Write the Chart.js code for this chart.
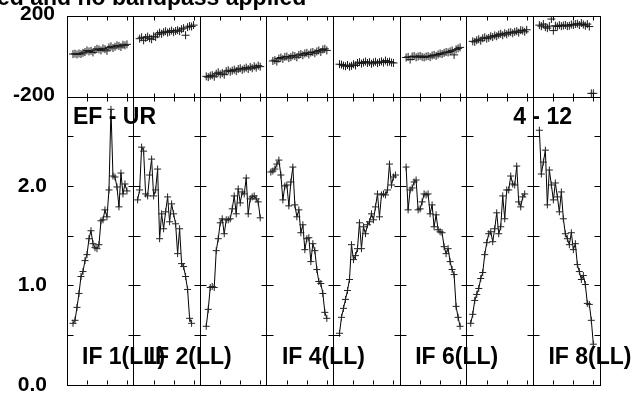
<!DOCTYPE html>
<html>
<head>
<meta charset="utf-8">
<script src="https://cdn.jsdelivr.net/npm/chart.js@4"></script>
<style>
html, body { margin: 0; padding: 0; background: #fff; }
#wrap { width: 636px; height: 394px; }
</style>
</head>
<body>
<div id="wrap"><canvas id="myChart"></canvas></div>
<script>
// amplitude per IF, one value per channel
const amp1 = [0.62, 0.65, 0.78, 0.92, 1.09, 1.14, 1.25, 1.31, 1.47, 1.55, 1.42, 1.38, 1.37, 1.41, 1.65, 1.66, 1.76, 1.69, 1.96, 2.77, 2.10, 2.09, 1.99, 1.79, 2.13, 1.92, 2.02, 1.95];
const amp2 = [1.86, 1.96, 2.39, 2.35, 1.92, 1.90, 2.11, 2.27, 1.90, 1.96, 2.17, 1.47, 1.72, 1.57, 1.74, 1.89, 1.64, 1.82, 1.72, 1.62, 1.32, 1.57, 1.22, 1.19, 1.09, 0.96, 0.67, 0.62];
const amp3 = [0.59, 0.76, 0.98, 0.99, 0.98, 1.35, 1.47, 1.63, 1.67, 1.52, 1.66, 1.66, 1.67, 1.77, 1.90, 1.72, 1.97, 1.83, 1.94, 1.92, 2.08, 1.72, 1.87, 1.89, 1.90, 1.87, 1.84, 1.68];
const amp4 = [2.14, 2.15, 2.17, 2.22, 2.26, 2.11, 1.86, 2.00, 2.01, 1.80, 2.04, 2.19, 1.81, 1.69, 1.76, 1.53, 1.61, 1.36, 1.47, 1.48, 1.24, 1.42, 1.35, 1.16, 1.04, 1.02, 0.92, 0.73, 0.67];
const amp5 = [0.52, 0.68, 0.77, 0.86, 0.95, 1.06, 1.41, 1.26, 1.30, 1.37, 1.63, 1.37, 1.59, 1.52, 1.61, 1.64, 1.72, 1.66, 1.79, 1.92, 1.69, 1.91, 1.92, 1.91, 1.96, 2.22, 2.01, 2.09, 2.11];
const amp6 = [2.19, 1.76, 1.96, 1.98, 2.04, 2.06, 1.76, 1.77, 1.84, 1.92, 1.91, 1.92, 1.72, 1.81, 1.59, 1.71, 1.56, 1.54, 1.53, 1.39, 1.32, 1.37, 1.24, 1.16, 1.11, 0.79, 0.68, 0.59];
const amp7 = [0.62, 0.71, 0.85, 0.91, 0.97, 1.07, 1.13, 1.31, 1.43, 1.52, 1.54, 1.44, 1.57, 1.73, 1.52, 1.59, 1.90, 1.67, 1.96, 1.96, 2.10, 2.02, 2.01, 2.20, 1.84, 1.79, 1.89, 1.92];
const amp8 = [2.56, 2.12, 2.24, 2.36, 1.81, 2.16, 2.01, 1.86, 2.03, 1.89, 1.74, 1.94, 1.67, 1.52, 1.47, 1.41, 1.53, 1.36, 1.42, 1.21, 1.14, 1.06, 1.10, 1.01, 0.82, 0.81, 0.65, 0.41];
const ampFirstChan = [3, 2, 3, 2, 3, 3, 2, 3];

// phase per IF (degrees), channels 3..30
const ph1 = [12, 14, 10, 15, 12, 18, 22, 30, 25, 28, 20, 32, 38, 35, 30, 40, 36, 28, 45, 50, 42, 48, 55, 52, 47, 58, 55, 60];
const ph2 = [88, 95, 80, 92, 98, 90, 85, 100, 96, 110, 118, 112, 120, 125, 118, 122, 128, 120, 126, 130, 125, 135, 140, 105, 145, 150, 148, 155];
const ph3 = [-98, -102, -95, -92, -100, -85, -78, -88, -82, -90, -72, -68, -75, -70, -65, -72, -62, -58, -66, -60, -55, -62, -52, -58, -48, -55, -45, -50];
const ph4 = [-22, -18, -25, -10, -5, -12, -2, 0, -8, -3, 5, 2, -4, 8, 12, 6, 15, 18, 10, 20, 22, 16, 25, 30, 22, 35, 38, 30];
const ph5 = [-38, -40, -45, -48, -42, -50, -46, -38, -44, -32, -28, -35, -30, -25, -32, -28, -36, -30, -26, -33, -28, -24, -30, -20, -28, -25, -30, -32];
const ph6 = [-5, -2, -15, 0, 2, -4, 0, 3, -2, -5, 0, 2, -3, 5, 8, 3, 10, 15, 12, 18, 22, 20, 25, 30, 8, 35, 40, 45];
const ph7 = [75, 72, 80, 85, 78, 90, 95, 88, 92, 100, 96, 104, 100, 108, 112, 105, 115, 110, 118, 120, 115, 122, 125, 118, 130, 128, 122, 132];
const ph8 = [155, 150, 160, 145, 140, 150, 185, 128, 152, 148, 155, 150, 153, 156, 150, 152, 158, 155, 160, 162, 155, 165, 158, 152, 160, 148, -182, -182];
const phFirstChan = 3;

const ampTicks = [0, 1, 2];
const phaseTicks = [-200, 0, 200];
const ifLabels = ['IF 1(LL)', 'IF 2(LL)', 'IF 4(LL)', 'IF 6(LL)', 'IF 8(LL)'];
const ifLabelPanels = [0, 1, 3, 5, 7];
const titleText = 'ed and no bandpass applied';
const baselineText = 'EF - UR';
const timeText = '4 - 12';

const amps = [amp1, amp2, amp3, amp4, amp5, amp6, amp7, amp8];
const phases = [ph1, ph2, ph3, ph4, ph5, ph6, ph7, ph8];
const P = 100 / 3; // width of one IF panel in channels
const FONT = '"Liberation Sans", Arial, sans-serif';

const datasets = [];
amps.forEach((a, k) => {
    datasets.push({
        yAxisID: 'yAmp',
        data: a.map((v, i) => ({x: k * P + ampFirstChan[k] + i, y: v})),
        borderColor: '#000',
        borderWidth: 1,
        pointStyle: 'cross',
        pointRadius: 3.5,
        pointBorderColor: '#222',
        pointBorderWidth: 1,
        tension: 0
    });
});
phases.forEach((p, k) => {
    datasets.push({
        yAxisID: 'yPh',
        showLine: false,
        data: p.map((v, i) => ({x: k * P + phFirstChan + i, y: v})),
        pointStyle: 'cross',
        pointRadius: 4,
        pointBorderColor: '#1a1a1a',
        pointBorderWidth: 1
    });
});

// y axes keep their labels outside the chart area without pushing it in
const fitY = s => {
    s.width = 67;
    s.paddingTop = 0;
    s.paddingBottom = 0;
};

const panelTicks = {
    id: 'panelTicks',
    afterDraw(chart) {
        const {ctx, scales: {x, yAmp, yPh}} = chart;
        const top = Math.round(yPh.top) + 0.5;
        const mid = Math.round(yAmp.top) + 0.5;
        const bot = Math.round(yAmp.bottom) - 0.5;
        ctx.save();
        ctx.strokeStyle = '#000';
        ctx.lineWidth = 1;
        ctx.beginPath();
        for (let k = 0; k < 8; k++) {
            [10, 20, 30].forEach(c => {
                const px = Math.round(x.getPixelForValue(k * P + c)) + 0.5;
                ctx.moveTo(px, top); ctx.lineTo(px, top + 4);
                ctx.moveTo(px, mid - 4); ctx.lineTo(px, mid + 4);
                ctx.moveTo(px, bot); ctx.lineTo(px, bot - 4);
            });
        }
        for (let k = 0; k <= 8; k++) {
            const px = Math.round(x.getPixelForValue(k * P)) + 0.5;
            [0.5, 1, 1.5, 2, 2.5].forEach(v => {
                const py = Math.round(yAmp.getPixelForValue(v)) + 0.5;
                ctx.moveTo(k > 0 ? px - 6 : px, py);
                ctx.lineTo(k < 8 ? px + 6 : px, py);
            });
        }
        ctx.stroke();

        ctx.fillStyle = '#000';
        ctx.font = 'bold 23px ' + FONT;
        ctx.textBaseline = 'alphabetic';
        ctx.textAlign = 'left';
        ctx.fillText(titleText, -3, 5);
        ctx.fillText(baselineText, x.getPixelForValue(0) + 6, 124);
        ctx.textAlign = 'right';
        ctx.fillText(timeText, x.getPixelForValue(8 * P) - 28, 124);
        ctx.textAlign = 'left';
        ifLabels.forEach((t, i) => {
            ctx.fillText(t, x.getPixelForValue(ifLabelPanels[i] * P) + 15, yAmp.getPixelForValue(0) - 21);
        });
        ctx.restore();
    }
};

const config = {
    type: 'line',
    data: {datasets: datasets},
    options: {
        responsive: true,
        maintainAspectRatio: false,
        animation: false,
        layout: {padding: {left: 0, top: 16, right: 36, bottom: 9}},
        plugins: {legend: {display: false}, tooltip: {enabled: false}},
        scales: {
            x: {
                type: 'linear',
                min: 0,
                max: 8 * P,
                afterBuildTicks: s => { s.ticks = [0, 1, 2, 3, 4, 5, 6, 7, 8].map(k => ({value: k * P})); },
                afterFit: s => { s.height = 0; s.paddingLeft = 0; s.paddingRight = 0; },
                ticks: {display: false},
                grid: {color: '#000', drawTicks: false},
                border: {display: true, color: '#000'}
            },
            yAmp: {
                type: 'linear',
                position: 'left',
                stack: 'panels',
                stackWeight: 288,
                weight: 0,
                min: 0,
                max: 2.894,
                afterBuildTicks: s => { s.ticks = ampTicks.map(v => ({value: v})); },
                afterFit: fitY,
                ticks: {
                    callback: v => v.toFixed(1),
                    color: '#000',
                    padding: 12,
                    font: {family: FONT, size: 21, weight: 'bold'}
                },
                grid: {display: false},
                border: {display: true, color: '#000'}
            },
            yPh: {
                type: 'linear',
                position: 'left',
                stack: 'panels',
                stackWeight: 81,
                weight: 1,
                min: -200,
                max: 200,
                afterBuildTicks: s => { s.ticks = phaseTicks.map(v => ({value: v})); },
                afterFit: fitY,
                ticks: {
                    callback: v => v === 0 ? '' : String(v),
                    color: '#000',
                    padding: 12,
                    labelOffset: -2,
                    font: {family: FONT, size: 21, weight: 'bold'}
                },
                grid: {color: '#000', drawTicks: false},
                border: {display: true, color: '#000'}
            }
        }
    },
    plugins: [panelTicks]
};

const myChart = new Chart(document.getElementById('myChart'), config);
</script>
</body>
</html>
